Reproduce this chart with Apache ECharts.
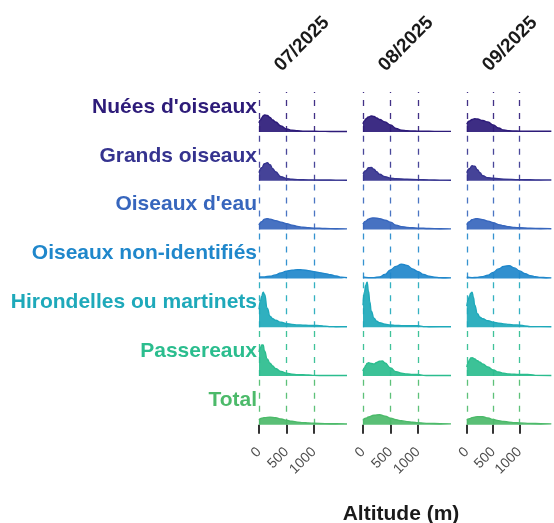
<!DOCTYPE html>
<html>
<head>
<meta charset="utf-8">
<script src="https://cdn.jsdelivr.net/npm/echarts@6/dist/echarts.min.js"></script>
<style>
html,body{margin:0;padding:0;background:#fff;}
#chart{width:554px;height:523px;}
</style>
</head>
<body>
<div id="chart"></div>
<script>
// ---- Data ----
const months = ['07/2025', '08/2025', '09/2025'];
const categories = ["Nuées d'oiseaux", 'Grands oiseaux', "Oiseaux d'eau", 'Oiseaux non-identifiés', 'Hirondelles ou martinets', 'Passereaux', 'Total'];
const xTicks = [0, 500, 1000];
const xTitle = 'Altitude (m)';

// density profiles [altitude (m), relative density] for 07, 08, 09
const densNuees = [
  [[0,9],[25,12],[50,14],[75,16],[100,17],[150,16.5],[200,14.5],[250,12],[300,10],[400,6],[500,3],[600,1.8],[700,1.2],[800,0.9],[900,0.8],[1000,0.7],[1200,0.6],[1400,0.5],[1600,0.5]],
  [[0,8],[25,11],[50,13],[100,15],[150,16],[200,15.5],[250,14],[300,12.5],[400,10],[500,7],[600,3.5],[700,1.8],[800,1.2],[900,1],[1000,0.9],[1200,0.7],[1400,0.6],[1600,0.6]],
  [[0,8],[50,11],[100,12.5],[150,13.3],[200,13],[300,11.5],[400,10],[500,7],[600,4],[700,2],[800,1.2],[900,1],[1000,0.9],[1200,0.8],[1400,0.7],[1600,0.7]]
];
const densGrands = [
  [[0,8],[50,13],[100,17],[150,18],[200,16],[250,12],[300,9],[400,4],[500,2.2],[600,1.5],[700,1.2],[800,1],[1000,0.9],[1200,0.8],[1400,0.7],[1600,0.6]],
  [[0,7],[50,10],[100,13],[150,13.3],[200,11.5],[250,9],[300,6.5],[400,4],[500,2.7],[600,2],[800,1.5],[1000,1.2],[1200,0.9],[1400,0.7],[1600,0.6]],
  [[0,8],[50,12],[100,15],[150,14.5],[200,11],[250,8],[300,5],[400,3],[500,2.5],[700,1.7],[1000,1.2],[1200,1],[1400,0.9],[1600,0.8]]
];
const densEau = [
  [[0,4.5],[50,8],[100,10.5],[150,11],[200,10.5],[300,9],[400,7.5],[500,6],[600,4.5],[700,3.2],[800,2.3],[900,1.8],[1000,1.5],[1200,1.1],[1400,0.9],[1600,0.7]],
  [[0,5.5],[50,8.5],[100,10.5],[150,11.5],[200,11.7],[300,11],[400,9.5],[500,7.5],[600,4.5],[700,3],[800,2.2],[900,1.8],[1000,1.5],[1200,1.1],[1400,0.9],[1600,0.7]],
  [[0,5],[50,8],[100,10],[150,10.7],[200,11],[300,10],[400,8.5],[500,6.8],[600,5],[700,3.8],[800,2.8],[900,2.2],[1000,1.8],[1200,1.3],[1400,1.1],[1600,0.9]]
];
const densNonId = [
  [[0,1.5],[100,1.5],[200,2.2],[300,3.5],[400,5.5],[500,7.3],[600,8.3],[700,8.7],[800,8.5],[900,7.8],[1000,6.8],[1100,5.8],[1200,4.8],[1300,3.6],[1400,2.4],[1500,1.3],[1600,0.6]],
  [[0,1.5],[100,0.8],[200,0.8],[300,1.5],[400,4],[500,8.5],[600,12],[700,14.3],[800,13],[900,9.5],[1000,6.8],[1100,4],[1200,2.2],[1300,1.2],[1400,0.8],[1500,0.6],[1600,0.5]],
  [[0,1.5],[100,0.8],[200,1],[300,1.8],[400,3.2],[500,6],[600,9.5],[700,12],[800,12.7],[900,10.5],[1000,7.5],[1100,4.8],[1200,2.8],[1300,1.6],[1400,1],[1500,0.7],[1600,0.5]]
];
const densHirondelles = [
  [[0,18],[25,26],[50,31],[75,35],[100,33],[150,19],[200,11],[250,8.5],[300,7],[400,5],[500,3.5],[600,2.8],[700,2.3],[800,2],[900,1.8],[1000,1.7],[1100,1.6],[1200,1],[1300,0.6],[1400,0.5],[1600,0.5]],
  [[0,22],[25,35],[50,42],[75,45],[100,36],[125,25],[150,16],[200,9],[250,6],[300,4.5],[400,3],[500,2.2],[600,1.8],[700,1.6],[800,1.5],[900,1.5],[1000,1.4],[1100,0.6],[1200,0.5],[1600,0.5]],
  [[0,21],[25,27],[50,31],[75,34],[100,35],[125,30],[150,22],[200,13.5],[250,10],[300,8.5],[400,6.5],[500,5],[600,4],[700,3.3],[800,2.8],[900,2.3],[1000,2],[1100,1.3],[1200,0.6],[1600,0.5]]
];
const densPassereaux = [
  [[0,24],[25,28],[50,31],[75,31],[100,25],[150,17],[200,12.7],[250,10],[300,7.5],[400,4.5],[500,2.7],[600,1.8],[700,1.4],[800,1.2],[900,1],[1000,0.6],[1200,0.5],[1600,0.5]],
  [[0,5],[25,8],[50,10.5],[75,12.5],[100,13.3],[150,12.5],[200,12],[250,13.5],[300,14.8],[350,15],[400,13],[500,8],[600,4.3],[700,2.8],[800,2],[900,1.6],[1000,1.5],[1100,0.6],[1200,0.5],[1600,0.5]],
  [[0,9],[25,13],[50,16],[75,18],[100,18.3],[150,17],[200,15.3],[250,13.8],[300,12],[400,9],[500,6],[600,4],[700,2.8],[800,2],[900,1.7],[1000,1.6],[1100,1.5],[1200,1.4],[1300,0.6],[1600,0.5]]
];
const densTotal = [
  [[0,5],[50,6.5],[100,7.2],[200,7.7],[300,7],[400,5.8],[500,4.5],[600,3.5],[700,2.7],[800,2.2],[900,1.8],[1000,1.5],[1200,1.2],[1400,1],[1600,0.8]],
  [[0,4.5],[50,6.5],[100,7.8],[200,9.5],[300,10],[400,8.7],[500,6.7],[600,5],[700,4],[800,3.2],[900,2.5],[1000,2],[1200,1.4],[1400,1.1],[1600,0.9]],
  [[0,4.5],[50,6],[100,7.2],[200,8.2],[300,8],[400,6.8],[500,5.3],[600,4.2],[700,3.3],[800,2.7],[900,2.2],[1000,1.9],[1200,1.4],[1400,1.1],[1600,0.9]]
];
const densities = [densNuees, densGrands, densEau, densNonId, densHirondelles, densPassereaux, densTotal];

// ---- Styling / layout ----
const colors = ['#2d1b79', '#35338f', '#3766bd', '#1f87cb', '#1ea9ba', '#2bbd8e', '#4cba6a'];
const X_MIN = -100, X_MAX = 1650;
const PX_PER_M = 0.055;
const COL_ZERO = [259, 363, 467];
const BASE0 = 132, ROW_STEP = 48.8, FIRST_H = 40;
const font = '"Liberation Sans", Arial, Helvetica, sans-serif';

const grids = [], xAxes = [], yAxes = [], series = [], graphics = [];

categories.forEach((cat, r) => {
  const baseline = BASE0 + ROW_STEP * r;
  const h = r === 0 ? FIRST_H : ROW_STEP;
  const last = r === categories.length - 1;
  months.forEach((m, c) => {
    const idx = grids.length;
    grids.push({
      left: COL_ZERO[c] + X_MIN * PX_PER_M,
      top: baseline - h,
      width: (X_MAX - X_MIN) * PX_PER_M,
      height: h
    });
    xAxes.push({
      gridIndex: idx, type: 'value', min: X_MIN, max: X_MAX,
      show: true,
      offset: 3,
      axisLine: { show: false },
      splitLine: { show: false },
      axisTick: { show: last, length: 9, customValues: xTicks, lineStyle: { color: '#333333', width: 2 } },
      axisLabel: { show: last, customValues: xTicks, rotate: 45, margin: 22, color: '#4d4d4d', fontSize: 14, fontFamily: font, formatter: v => String(v) }
    });
    yAxes.push({ gridIndex: idx, type: 'value', min: 0, max: h, show: false });
    series.push({
      type: 'line',
      xAxisIndex: idx, yAxisIndex: idx,
      data: densities[r][c],
      symbol: 'none',
      smooth: true,
      smoothMonotone: 'x',
      clip: false,
      silent: true,
      lineStyle: { color: colors[r], width: 1.4 },
      areaStyle: { color: colors[r], opacity: 0.92 },
      markLine: {
        silent: true,
        symbol: ['none', 'none'],
        label: { show: false },
        lineStyle: { color: colors[r], type: [6, 7], width: 1.3, opacity: 0.9 },
        data: xTicks.map(v => ({ xAxis: v }))
      }
    });
  });
  graphics.push({
    type: 'text', x: 257, y: baseline - 25,
    style: { text: cat, textAlign: 'right', textVerticalAlign: 'middle', font: 'bold 21px ' + font, fill: colors[r] }
  });
});

months.forEach((m, c) => {
  graphics.push({
    type: 'text', x: COL_ZERO[c] + 43, y: 44, rotation: Math.PI / 4,
    style: { text: m, textAlign: 'center', textVerticalAlign: 'middle', font: 'bold 19px ' + font, fill: '#1a1a1a' }
  });
});
graphics.push({
  type: 'text', x: 401, y: 514,
  style: { text: xTitle, textAlign: 'center', textVerticalAlign: 'middle', font: 'bold 21px ' + font, fill: '#1a1a1a' }
});

const chart = echarts.init(document.getElementById('chart'), null, { renderer: 'canvas' });
chart.setOption({
  animation: false,
  backgroundColor: '#ffffff',
  grid: grids,
  xAxis: xAxes,
  yAxis: yAxes,
  series: series,
  graphic: graphics
});
</script>
</body>
</html>
